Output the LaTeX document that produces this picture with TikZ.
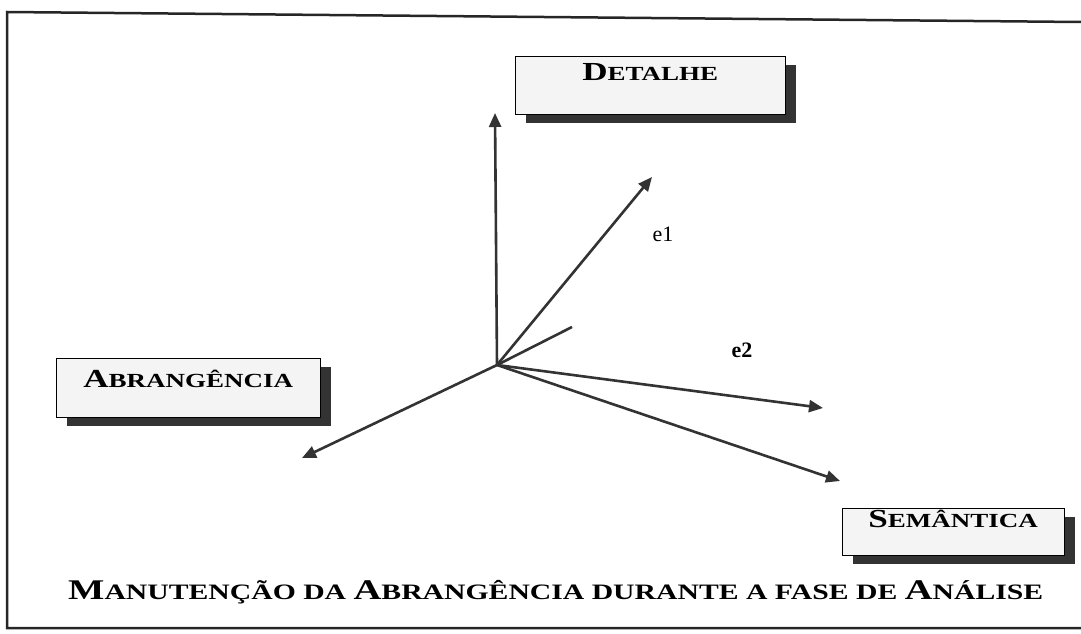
\documentclass[tikz,border=0pt]{standalone}
\usepackage{fontspec}
\setmainfont{Liberation Serif}
\newfontfamily\capfont{Liberation Serif}[FakeStretch=1.35]
\usetikzlibrary{arrows.meta,shadows}

% versaletes feitos a mao
\newcommand{\grande}[1]{{\fontsize{26}{26}\selectfont #1}}
\newcommand{\rotulo}[2]{{\capfont\bfseries\grande{#1}\fontsize{20}{20}\selectfont #2}}

\begin{document}
\begin{tikzpicture}[x=1pt, y=-1pt]
  \tikzset{
    caixa/.style={draw=black, thin, fill=gray!9, inner sep=0pt, anchor=north west,
      drop shadow={shadow xshift=11pt, shadow yshift=-9pt, fill=black!80, opacity=1}},
    eixo/.style={draw=black!80, line width=2.6pt, -{Triangle[length=14pt, width=12pt]}},
    moldura/.style={draw=black!85, line width=2.5pt}
  }
  \useasboundingbox (0,0) rectangle (1081,634);

  % Moldura
  \draw[moldura] (1081,22) -- (7,12) -- (7,628) -- (1081,628);

  % Caixas
  \node[caixa, minimum width=270pt, text height=24pt, text depth=34pt]
    (detalhe) at (515,56) {\rotulo{D}{ETALHE}};
  \node[caixa, minimum width=264pt, text height=29pt, text depth=30pt]
    (abrangencia) at (56,358) {\rotulo{A}{BRANGÊNCIA}};
  \node[caixa, minimum width=222pt, text height=19pt, text depth=28pt]
    (semantica) at (842,508) {\rotulo{S}{EMÂNTICA}};

  % Eixos
  \coordinate (O) at (497,365);
  \coordinate (topo) at (495,113);
  \coordinate (pe1) at (652,177);
  \coordinate (curto) at (572,327);
  \coordinate (pe2) at (823,408);
  \coordinate (psem) at (840,481);
  \coordinate (pabr) at (302,458);

  \draw[eixo] (O) -- (topo);
  \draw[eixo] (O) -- (pe1);
  \draw[draw=black!80, line width=2.6pt] (O) -- (curto);
  \draw[eixo] (O) -- (pe2);
  \draw[eixo] (O) -- (psem);
  \draw[eixo] (O) -- (pabr);

  \node[font=\fontsize{22}{22}\selectfont] (e1) at (663,234) {e1};
  \node[font=\fontsize{22}{22}\selectfont\bfseries] (e2) at (742,350) {e2};

  % Legenda
  \node[anchor=base west, inner sep=0pt] (legenda) at (68,599)
    {\capfont\bfseries\fontsize{22}{22}\selectfont
     {\fontsize{28.5}{28.5}\selectfont M}ANUTENÇÃO DA {\fontsize{28.5}{28.5}\selectfont A}BRANGÊNCIA
     DURANTE A FASE DE {\fontsize{28.5}{28.5}\selectfont A}NÁLISE};
\end{tikzpicture}
\end{document}
